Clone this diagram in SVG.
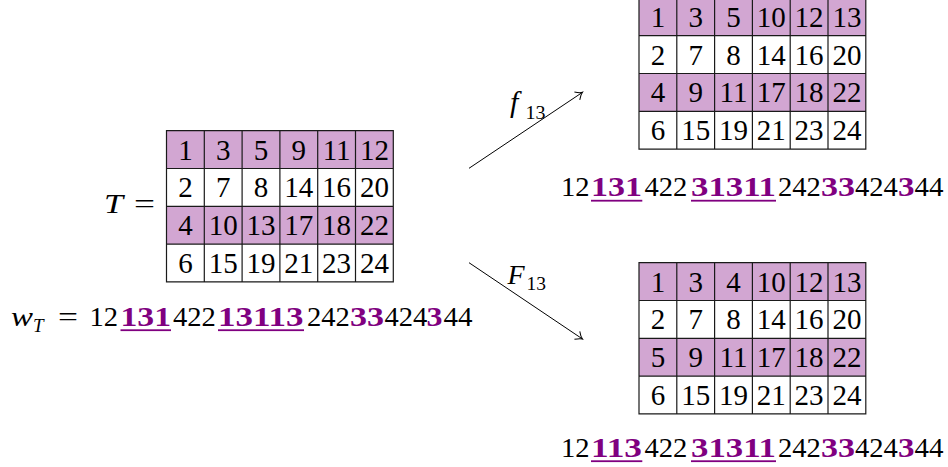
<svg xmlns="http://www.w3.org/2000/svg" width="948" height="467" viewBox="0 0 948 467">
<defs>
<style>
text{font-family:Liberation Serif,serif}
.c{font-size:29px;text-anchor:middle}
.w{font-size:28px}
.b{font-size:28px;font-weight:bold;fill:#800080}
.i{font-style:italic}
.s{font-size:19px}
.sh{fill:#D2A6D2}
.wh{fill:#fff}
.g{stroke:#1a1a1a;stroke-width:1.2;fill:none}
.u{fill:#800080}
.ar{stroke:#000;stroke-width:1;fill:none}
</style>
<marker id="tip" markerUnits="userSpaceOnUse" markerWidth="14" markerHeight="14" viewBox="-8 -7 10 14" refX="0" refY="0" orient="auto">
<path d="M-6.5,-4.8 C-3.8,-1.9 -1.3,-0.4 0,0 C-1.3,0.4 -3.8,1.9 -6.5,4.8" stroke="#000" stroke-width="1" fill="none"/>
</marker>
</defs>
<rect width="948" height="467" fill="#fff"/>
<g font-family="Liberation Serif,serif" fill="#000">

<g id="label-T">
<text class="w i" x="104" y="213" textLength="19" lengthAdjust="spacingAndGlyphs">T</text>
<text class="w" x="134" y="213" textLength="21" lengthAdjust="spacingAndGlyphs">=</text>
</g>

<g id="table-T">
<rect class="sh" x="166.5" y="130.7" width="226.8" height="37.8"/>
<rect class="wh" x="166.5" y="168.5" width="226.8" height="37.8"/>
<rect class="sh" x="166.5" y="206.3" width="226.8" height="37.8"/>
<rect class="wh" x="166.5" y="244.1" width="226.8" height="37.8"/>
<path class="g" d="M166.5,130.7H393.3V281.9H166.5Z M166.5,168.5H393.3 M166.5,206.3H393.3 M166.5,244.1H393.3 M204.3,130.7V281.9 M242.1,130.7V281.9 M279.9,130.7V281.9 M317.7,130.7V281.9 M355.5,130.7V281.9"/>
<text class="c" y="159.5"><tspan x="185.4">1</tspan><tspan x="223.2">3</tspan><tspan x="261">5</tspan><tspan x="298.8">9</tspan><tspan x="336.6">11</tspan><tspan x="374.4">12</tspan></text>
<text class="c" y="197.3"><tspan x="185.4">2</tspan><tspan x="223.2">7</tspan><tspan x="261">8</tspan><tspan x="298.8">14</tspan><tspan x="336.6">16</tspan><tspan x="374.4">20</tspan></text>
<text class="c" y="235.1"><tspan x="185.4">4</tspan><tspan x="223.2">10</tspan><tspan x="261">13</tspan><tspan x="298.8">17</tspan><tspan x="336.6">18</tspan><tspan x="374.4">22</tspan></text>
<text class="c" y="272.9"><tspan x="185.4">6</tspan><tspan x="223.2">15</tspan><tspan x="261">19</tspan><tspan x="298.8">21</tspan><tspan x="336.6">23</tspan><tspan x="374.4">24</tspan></text>
</g>

<g id="word-T">
<text class="w i" x="11" y="326" textLength="22" lengthAdjust="spacingAndGlyphs">w</text>
<text class="s i" x="33" y="332">T</text>
<text class="w" x="58" y="326" textLength="20" lengthAdjust="spacingAndGlyphs">=</text>
<text class="w" x="89.5" y="326" textLength="28.6" lengthAdjust="spacingAndGlyphs">12</text>
<text class="b" x="120.5" y="326" textLength="50.5" lengthAdjust="spacingAndGlyphs">131</text>
<rect class="u" x="120.5" y="329.3" width="50.5" height="1.8"/>
<text class="w" x="173" y="326" textLength="42.9" lengthAdjust="spacingAndGlyphs">422</text>
<text class="b" x="218" y="326" textLength="85.5" lengthAdjust="spacingAndGlyphs">13113</text>
<rect class="u" x="218" y="329.3" width="86" height="1.8"/>
<text class="w" x="307" y="326" textLength="42.9" lengthAdjust="spacingAndGlyphs">242</text>
<text class="b" x="350" y="326" textLength="34" lengthAdjust="spacingAndGlyphs">33</text>
<text class="w" x="384.5" y="326" textLength="42.9" lengthAdjust="spacingAndGlyphs">424</text>
<text class="b" x="426.5" y="326" textLength="16" lengthAdjust="spacingAndGlyphs">3</text>
<text class="w" x="443.5" y="326" textLength="29" lengthAdjust="spacingAndGlyphs">44</text>
</g>

<g id="table-f">
<rect class="sh" x="639" y="-2.1" width="226.8" height="37.8"/>
<rect class="wh" x="639" y="35.7" width="226.8" height="37.8"/>
<rect class="sh" x="639" y="73.5" width="226.8" height="37.8"/>
<rect class="wh" x="639" y="111.3" width="226.8" height="37.8"/>
<path class="g" d="M639,-2.1H865.8V149.1H639Z M639,35.7H865.8 M639,73.5H865.8 M639,111.3H865.8 M676.8,-2.1V149.1 M714.6,-2.1V149.1 M752.4,-2.1V149.1 M790.2,-2.1V149.1 M828,-2.1V149.1"/>
<text class="c" y="26.7"><tspan x="657.9">1</tspan><tspan x="695.7">3</tspan><tspan x="733.5">5</tspan><tspan x="771.3">10</tspan><tspan x="809.1">12</tspan><tspan x="846.9">13</tspan></text>
<text class="c" y="64.5"><tspan x="657.9">2</tspan><tspan x="695.7">7</tspan><tspan x="733.5">8</tspan><tspan x="771.3">14</tspan><tspan x="809.1">16</tspan><tspan x="846.9">20</tspan></text>
<text class="c" y="102.3"><tspan x="657.9">4</tspan><tspan x="695.7">9</tspan><tspan x="733.5">11</tspan><tspan x="771.3">17</tspan><tspan x="809.1">18</tspan><tspan x="846.9">22</tspan></text>
<text class="c" y="140.1"><tspan x="657.9">6</tspan><tspan x="695.7">15</tspan><tspan x="733.5">19</tspan><tspan x="771.3">21</tspan><tspan x="809.1">23</tspan><tspan x="846.9">24</tspan></text>
</g>

<g id="word-f">
<text class="w" x="561" y="196" textLength="28.6" lengthAdjust="spacingAndGlyphs">12</text>
<text class="b" x="591" y="196" textLength="51" lengthAdjust="spacingAndGlyphs">131</text>
<rect class="u" x="591" y="199.8" width="51.3" height="1.8"/>
<text class="w" x="644.5" y="196" textLength="42.9" lengthAdjust="spacingAndGlyphs">422</text>
<text class="b" x="691" y="196" textLength="85" lengthAdjust="spacingAndGlyphs">31311</text>
<rect class="u" x="691" y="199.8" width="85" height="1.8"/>
<text class="w" x="778" y="196" textLength="42.9" lengthAdjust="spacingAndGlyphs">242</text>
<text class="b" x="821" y="196" textLength="34" lengthAdjust="spacingAndGlyphs">33</text>
<text class="w" x="855" y="196" textLength="42.9" lengthAdjust="spacingAndGlyphs">424</text>
<text class="b" x="898" y="196" textLength="16.5" lengthAdjust="spacingAndGlyphs">3</text>
<text class="w" x="914.5" y="196" textLength="29" lengthAdjust="spacingAndGlyphs">44</text>
</g>

<g id="table-F">
<rect class="sh" x="639" y="262.7" width="226.8" height="37.8"/>
<rect class="wh" x="639" y="300.5" width="226.8" height="37.8"/>
<rect class="sh" x="639" y="338.3" width="226.8" height="37.8"/>
<rect class="wh" x="639" y="376.1" width="226.8" height="37.8"/>
<path class="g" d="M639,262.7H865.8V413.9H639Z M639,300.5H865.8 M639,338.3H865.8 M639,376.1H865.8 M676.8,262.7V413.9 M714.6,262.7V413.9 M752.4,262.7V413.9 M790.2,262.7V413.9 M828,262.7V413.9"/>
<text class="c" y="291.5"><tspan x="657.9">1</tspan><tspan x="695.7">3</tspan><tspan x="733.5">4</tspan><tspan x="771.3">10</tspan><tspan x="809.1">12</tspan><tspan x="846.9">13</tspan></text>
<text class="c" y="329.3"><tspan x="657.9">2</tspan><tspan x="695.7">7</tspan><tspan x="733.5">8</tspan><tspan x="771.3">14</tspan><tspan x="809.1">16</tspan><tspan x="846.9">20</tspan></text>
<text class="c" y="367.1"><tspan x="657.9">5</tspan><tspan x="695.7">9</tspan><tspan x="733.5">11</tspan><tspan x="771.3">17</tspan><tspan x="809.1">18</tspan><tspan x="846.9">22</tspan></text>
<text class="c" y="404.9"><tspan x="657.9">6</tspan><tspan x="695.7">15</tspan><tspan x="733.5">19</tspan><tspan x="771.3">21</tspan><tspan x="809.1">23</tspan><tspan x="846.9">24</tspan></text>
</g>

<g id="word-F">
<text class="w" x="561" y="456.5" textLength="28.6" lengthAdjust="spacingAndGlyphs">12</text>
<text class="b" x="591" y="456.5" textLength="51" lengthAdjust="spacingAndGlyphs">113</text>
<rect class="u" x="591" y="460.3" width="51.3" height="1.8"/>
<text class="w" x="644.5" y="456.5" textLength="42.9" lengthAdjust="spacingAndGlyphs">422</text>
<text class="b" x="691" y="456.5" textLength="85" lengthAdjust="spacingAndGlyphs">31311</text>
<rect class="u" x="691" y="460.3" width="85" height="1.8"/>
<text class="w" x="778" y="456.5" textLength="42.9" lengthAdjust="spacingAndGlyphs">242</text>
<text class="b" x="821" y="456.5" textLength="34" lengthAdjust="spacingAndGlyphs">33</text>
<text class="w" x="855" y="456.5" textLength="42.9" lengthAdjust="spacingAndGlyphs">424</text>
<text class="b" x="898" y="456.5" textLength="16.5" lengthAdjust="spacingAndGlyphs">3</text>
<text class="w" x="914.5" y="456.5" textLength="29" lengthAdjust="spacingAndGlyphs">44</text>
</g>

<g id="connectors">
<line class="ar" x1="469" y1="168.3" x2="582.5" y2="92.3" marker-end="url(#tip)"/>
<line class="ar" x1="469" y1="262.7" x2="582.5" y2="339" marker-end="url(#tip)"/>
<text class="w i" x="510" y="112" style="font-size:30px">f</text>
<text class="s" x="525.5" y="119" textLength="20" lengthAdjust="spacingAndGlyphs">13</text>
<text class="w i" x="507.5" y="283.5">F</text>
<text class="s" x="526.5" y="290" textLength="19.5" lengthAdjust="spacingAndGlyphs">13</text>
</g>
</g>
</svg>
